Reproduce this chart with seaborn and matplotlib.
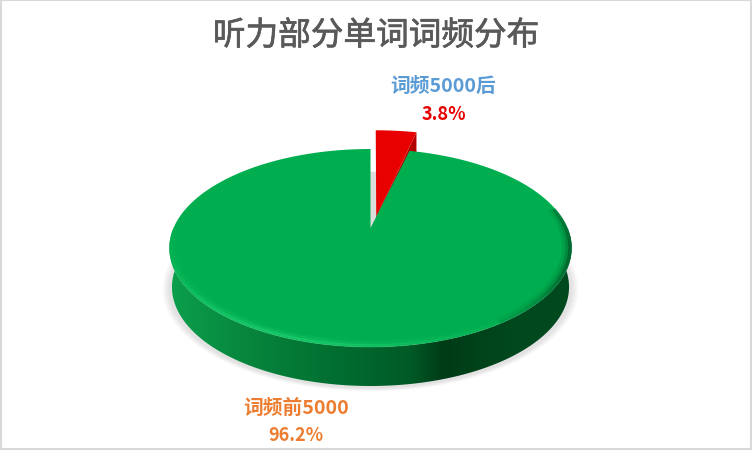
import matplotlib
matplotlib.use("Agg")
import matplotlib.pyplot as plt
import matplotlib.patheffects as pe
from matplotlib.collections import LineCollection
from matplotlib.colors import LinearSegmentedColormap, to_rgb
from matplotlib.patches import Polygon, Rectangle
import numpy as np
import seaborn as sns

# data
categories = ["词频5000后", "词频前5000"]
shares = [3.8, 96.2]
title = "听力部分单词词频分布"

# palette
GREEN = "#00AE50"
RED = "#E80000"
RED_SIDE = "#B30000"
SIDE_COLORS = ["#0B9F4C", "#07853D", "#006A2E", "#005A27", "#003C17", "#00481E", "#004A20"]
SIDE_STOPS = [0.0, 0.2, 0.45, 0.6, 0.68, 0.85, 1.0]

sns.set_theme(style="white")
plt.rcParams["font.family"] = ["Noto Sans CJK SC", "DejaVu Sans"]

# perspective view of the pie disc, in figure pixels
CX, CY = 370.5, 229.0
PERSP = 0.202
YK = -48.7
XR = 197.0
DEPTH = 39.0


def project(u, v):
    w = 1 + PERSP * v
    return CX + XR * u / w, (YK * v + CY) / w


def sector(theta1, theta2, r=1.0, center=(0.0, 0.0), n=300):
    t = np.radians(np.linspace(theta1, theta2, n))
    return center[0] + r * np.cos(t), center[1] + r * np.sin(t)


def closed(x, y):
    return np.column_stack([x, y])


fig = plt.figure(figsize=(7.52, 4.52), dpi=100, facecolor="white")
ax = fig.add_axes([0, 0, 1, 1])

wedges, _ = ax.pie(shares, explode=[0.12, 0], startangle=90, counterclock=False,
                   colors=[RED, GREEN], radius=1)
for w in wedges:
    w.set_visible(False)
red, green = wedges
ax.set_aspect("auto")
ax.set_xlim(0, 752)
ax.set_ylim(452, 0)
ax.axis("off")

# soft shadow below the pie
ux, uy = sector(0, 360)
px, py = project(ux, uy)
for grow in np.linspace(1.035, 1.0, 10):
    sx = CX + (px - CX) * grow
    sy = (py.min() + py.max()) / 2 + DEPTH + 2 + (py - (py.min() + py.max()) / 2) * grow
    ax.add_patch(Polygon(closed(sx, sy), fc="#808080", ec="none", alpha=0.02, zorder=1))

# side wall with its gradient
ux, uy = sector(180, 360)
tx, ty = project(ux, uy)
bx = CX + (tx - CX) * 0.987
by = ty + DEPTH
side = Polygon(np.vstack([closed(tx, ty), closed(bx, by)[::-1]]), fc="none", ec="none",
               transform=ax.transData, zorder=2)
ax.add_patch(side)
cmap = LinearSegmentedColormap.from_list("side", list(zip(SIDE_STOPS, SIDE_COLORS)))
img = ax.imshow(np.linspace(0, 1, 400).reshape(1, -1), cmap=cmap, aspect="auto",
                extent=(tx.min(), tx.max(), by.max() + 2, ty.min() - 2), zorder=2)
img.set_clip_path(side)
ax.set_xlim(0, 752)
ax.set_ylim(452, 0)

# shadow seen through the gap behind the red slice
ux, uy = sector(red.theta1, red.theta2, r=0.9, center=red.center)
sx, sy = project(np.r_[red.center[0], ux], np.r_[red.center[1], uy])
ax.add_patch(Polygon(closed(sx - 3, sy + 24), fc="#DDDDDD", ec="none", zorder=2.5))

# red slice, drawn a little larger because it is pulled toward the viewer
ux, uy = sector(red.theta1, red.theta2, r=1.18, center=red.center)
rx, ry = project(np.r_[red.center[0], (ux - red.center[0]) * 0.93 + red.center[0]],
                 np.r_[red.center[1], uy])
rx = rx + 3
edge = np.array([[rx[0], ry[0]], [rx[1], ry[1]]])
ax.add_patch(Polygon(np.vstack([edge, edge[::-1] + [0, 20]]), fc=RED_SIDE, ec="none", zorder=3))
ax.add_patch(Polygon(closed(rx, ry), fc=red.get_facecolor(), ec="none", zorder=3.2))

# green top face
ux, uy = sector(green.theta1, green.theta2, center=green.center)
gx, gy = project(np.r_[green.center[0], ux], np.r_[green.center[1], uy])
ax.add_patch(Polygon(closed(gx, gy), fc=green.get_facecolor(), ec="none", zorder=4))

# bevel along the rim: light on the lower left, dark on the right
angles = np.linspace(172, 372, 240)
for r, lw, strength in [(0.992, 2.4, 0.5), (0.978, 2.4, 0.25), (0.962, 2.2, 0.1)]:
    ux, uy = sector(angles[0], angles[-1], r=r, n=240)
    lx, ly = project(ux, uy)
    pts = closed(lx, ly).reshape(-1, 1, 2)
    segs = np.concatenate([pts[:-1], pts[1:]], axis=1)
    cols = []
    for a in angles[:-1]:
        light = np.exp(-((a - 245) / 42) ** 2)
        dark = np.exp(-((a - 345) / 30) ** 2)
        if light > dark:
            cols.append((*to_rgb("#2BDC7C"), strength * light))
        else:
            cols.append((*to_rgb("#004A20"), min(strength * dark * 1.5, 1)))
    ax.add_collection(LineCollection(segs, colors=cols, linewidths=lw, zorder=5))

# chart frame
ax.add_patch(Rectangle((1, 1), 750, 449, fc="none", ec="#D9D9D9", lw=1.5, zorder=6))

# text
ttl = ax.text(376, 37, title, ha="center", va="center", fontsize=23.5, color="#595959")
ttl.set_path_effects([pe.withStroke(linewidth=0.5, foreground="#595959")])
ax.text(443.5, 86, categories[0], ha="center", va="center", fontsize=14.2, color="#5B9BD5",
        fontweight="bold")
ax.text(443.5, 114, f"{shares[0]:.1f}%", ha="center", va="center", fontsize=13, color="#E80000",
        fontweight="bold")
ax.text(296, 408, categories[1], ha="center", va="center", fontsize=14.2, color="#ED7D31",
        fontweight="bold")
ax.text(296, 436, f"{shares[1]:.1f}%", ha="center", va="center", fontsize=13, color="#ED7D31",
        fontweight="bold")

fig.savefig("out.png", dpi=100, facecolor="white")
